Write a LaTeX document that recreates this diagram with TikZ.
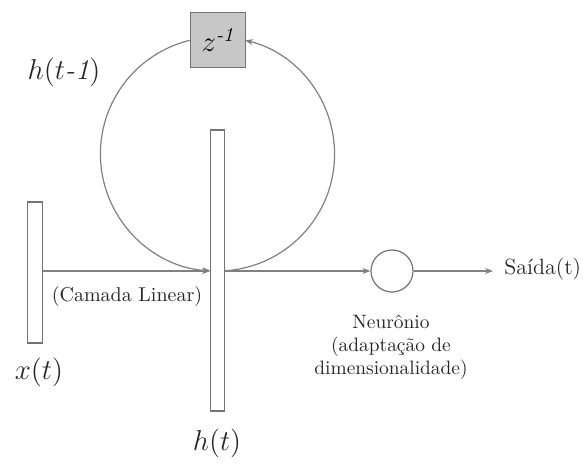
\documentclass[tikz,border=0pt]{standalone}
\usetikzlibrary{arrows.meta}
\begin{document}
\begin{tikzpicture}[x=0.5pt,y=-0.5pt,
  ln/.style={draw=black!50,line width=0.6pt},
  arr/.style={ln,-{Stealth[length=4pt,width=3pt]}},
  bar/.style={draw=black!55,line width=0.6pt,fill=white,inner sep=0pt},
  lbl/.style={inner sep=1pt,text=black!85}]
\useasboundingbox (0,0) rectangle (587,464);
% bars
\node[bar,minimum width=7.5pt,minimum height=70.5pt] (xt) at (35,272.5) {};
\node[bar,minimum width=6.75pt,minimum height=140.5pt] (ht) at (217.5,270.5) {};
% delay box
\node[draw=black!55,fill=black!22,line width=0.6pt,minimum width=27.5pt,minimum height=27.5pt,inner sep=0pt] (z) at (218,40) {\Large $z^{\mbox{\itshape\normalsize -1}}$};
% neuron
\node[circle,draw=black!55,line width=0.6pt,minimum size=21pt,inner sep=0pt] (n) at (392,271) {};
% labels
\node[lbl] (lhtm) at (64,72) {\Large $h(t\mbox{\itshape -1})$};
\node[lbl] (lxt) at (39,372) {\Large $x(t)$};
\node[lbl] (lht) at (217,443) {\Large $h(t)$};
\node[lbl] (lcam) at (127,296) {(Camada Linear)};
\node[lbl,align=center,font=\fontsize{9.7}{11.4}\selectfont,inner sep=0pt] (lneu) at (391,347) {Neurônio\\(adaptação de\\dimensionalidade)};
\node[lbl,anchor=west,inner sep=0pt,font=\fontsize{11}{13}\selectfont] (out) at (504,269) {Saída(t)};
% connectors
\coordinate (line) at (0,271);
\draw[arr] (xt.east |- line) -- (ht.west |- line);
\draw[arr] (ht.east |- line) -- (n.west);
\draw[arr,shorten >=5.5pt] (n.east) -- (out.west |- n.east);
% recurrent loop (circle centre (217.5,154) px, radius 117 px)
\coordinate (ar) at (224.5,270.8);
\coordinate (al) at (190.6,40.3);
\draw[arr] (ar) arc[start angle=-86.6,end angle=76.4,radius=58.5pt];
\draw[arr] (z.west |- al) arc[start angle=103.6,end angle=266.6,radius=58.5pt];
\end{tikzpicture}
\end{document}
